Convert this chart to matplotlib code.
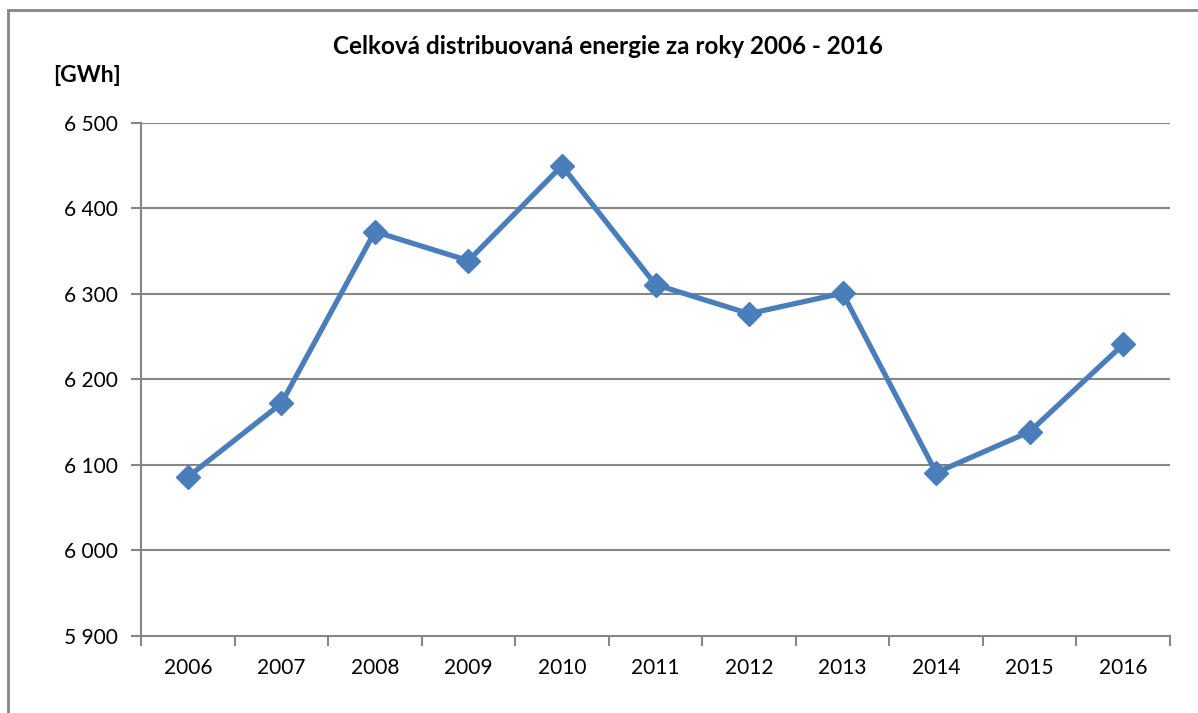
import numpy as np
import matplotlib.pyplot as plt
from matplotlib.patches import Rectangle

# yearly distributed energy [GWh]
years = ['2006', '2007', '2008', '2009', '2010', '2011', '2012', '2013', '2014', '2015', '2016']
energy = [6086, 6172, 6373, 6339, 6450, 6311, 6277, 6301, 6091, 6139, 6241]
y_ticks = [5900, 6000, 6100, 6200, 6300, 6400, 6500]
y_labels = ['5 900', '6 000', '6 100', '6 200', '6 300', '6 400', '6 500']

plt.rcParams['font.family'] = ['Lato', 'DejaVu Sans']
grid_c = '#868686'
line_c = '#4A7EBB'

fig = plt.figure(figsize=(11.98, 7.13), dpi=100)
# outer chart frame (runs off the right and bottom edge)
fig.patches.append(Rectangle((8/1198, -0.1), 1.2, 1 - 10/713 + 0.1, transform=fig.transFigure,
                             fill=False, edgecolor=grid_c, linewidth=2))

ax = fig.add_axes([141/1198, 1 - 636/713, (1170 - 141)/1198, (636 - 123)/713])
x = np.arange(len(years))
ax.plot(x, energy, color=line_c, linewidth=3.8, marker='D', markersize=12,
        markerfacecolor=line_c, markeredgecolor=line_c, zorder=3)

ax.set_xlim(-0.5, len(years) - 0.5)
ax.set_ylim(5900, 6500)
ax.set_yticks(y_ticks)
ax.set_yticklabels(y_labels, fontsize=15)
ax.set_xticks(x)
ax.set_xticklabels(years, fontsize=15)
ax.set_xticks(np.arange(-0.5, len(years)), minor=True)
ax.tick_params(axis='x', which='major', length=0, pad=16)
ax.tick_params(axis='x', which='minor', length=7, width=1.5, color=grid_c)
ax.tick_params(axis='y', length=7, width=1.5, color=grid_c, pad=10)

for g in y_ticks[1:]:
    ax.axhline(g, color=grid_c, linewidth=1.5, zorder=1)
for s in ['top', 'right']:
    ax.spines[s].set_visible(False)
for s in ['left', 'bottom']:
    ax.spines[s].set_color(grid_c)
    ax.spines[s].set_linewidth(1.5)

fig.text(608/1198, 1 - 47/713, 'Celková distribuovaná energie za roky 2006 - 2016',
         ha='center', va='center', fontsize=17.5, fontweight='bold')
fig.text(87/1198, 1 - 75/713, '[GWh]', ha='center', va='center', fontsize=16.5, fontweight='bold')

fig.savefig('out.png', dpi=100)
